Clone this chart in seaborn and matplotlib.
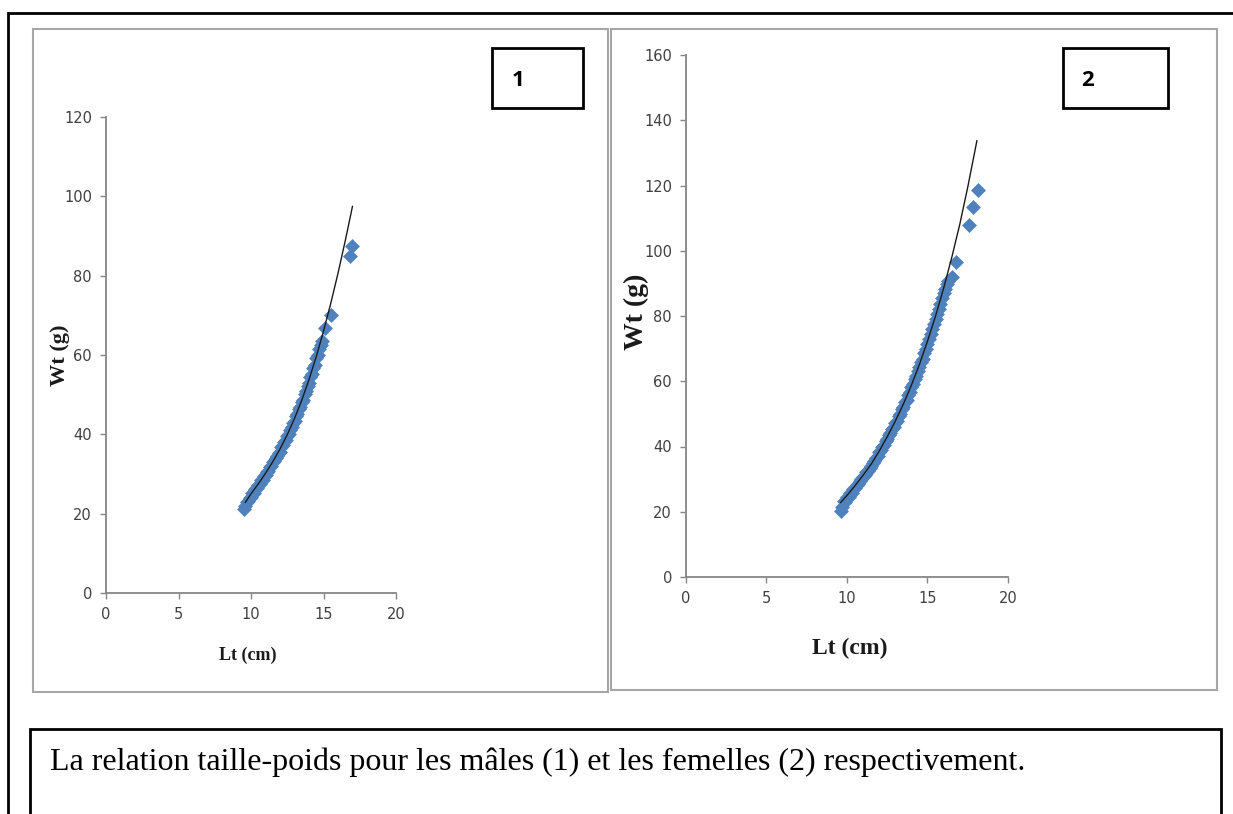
import matplotlib
matplotlib.use("Agg")
import matplotlib.pyplot as plt
from matplotlib.patches import Rectangle
import seaborn as sns
import pandas as pd

# males (1): total length (cm) vs total weight (g)
lt_males = [9.5, 9.6, 9.7, 9.8, 9.9, 10.0, 10.1, 10.2, 10.3, 10.4,
            10.5, 10.6, 10.7, 10.8, 10.9, 11.0, 11.1, 11.2, 11.3, 11.4,
            11.5, 11.6, 11.7, 11.8, 11.9, 12.0, 12.1, 12.2, 12.3, 12.4,
            12.5, 12.6, 12.7, 12.8, 12.9, 13.0, 13.1, 13.2, 13.3, 13.4,
            13.5, 13.6, 13.7, 13.8, 13.9, 14.0, 14.1, 14.2, 14.3, 14.4,
            14.5, 14.6, 14.7, 14.8, 14.9, 15.1, 15.5, 16.85, 16.95]
wt_males = [21.2, 22.0, 23.0, 23.1, 24.0, 24.3, 25.2, 25.3, 26.2, 26.4,
            27.3, 27.6, 28.4, 28.6, 29.4, 29.8, 30.6, 30.8, 31.8, 32.1,
            32.9, 33.2, 34.0, 34.6, 35.4, 35.6, 36.7, 37.2, 38.1, 38.6,
            39.6, 40.2, 41.1, 41.8, 42.8, 43.3, 44.6, 45.1, 46.3, 46.9,
            48.2, 48.7, 50.2, 50.9, 52.2, 52.9, 54.5, 55.3, 56.8, 57.6,
            59.2, 60.0, 61.6, 62.4, 63.6, 66.8, 70.0, 85.0, 87.5]
fit_lt_males = [9.6, 10.0, 10.5, 11.0, 11.5, 12.0, 12.5, 13.0, 13.5, 14.0, 14.5, 15.0,
                15.5, 16.0, 16.5, 17.0]
fit_wt_males = [22.8, 25.0, 27.5, 30.2, 33.1, 36.3, 39.9, 44.0, 48.6, 53.8, 59.6, 66.0,
                73.0, 80.6, 88.8, 97.5]

# females (2)
lt_females = [9.6, 9.7, 9.8, 9.9, 10.0, 10.1, 10.2, 10.3, 10.4, 10.5,
              10.6, 10.7, 10.8, 10.9, 11.0, 11.1, 11.2, 11.3, 11.4, 11.5,
              11.6, 11.7, 11.8, 11.9, 12.0, 12.1, 12.2, 12.3, 12.4, 12.5,
              12.6, 12.7, 12.8, 12.9, 13.0, 13.1, 13.2, 13.3, 13.4, 13.5,
              13.6, 13.7, 13.8, 13.9, 14.0, 14.1, 14.2, 14.3, 14.4, 14.5,
              14.6, 14.7, 14.8, 14.9, 15.0, 15.1, 15.2, 15.3, 15.4, 15.5,
              15.6, 15.7, 15.8, 15.9, 16.0, 16.1, 16.2, 16.3,
              16.5, 16.8, 17.55, 17.85, 18.15]
wt_females = [20.3, 21.6, 23.4, 22.9, 24.6, 24.4, 25.8, 25.6, 27.0, 27.2,
              28.3, 28.4, 29.5, 29.9, 30.8, 31.2, 32.2, 32.6, 33.5, 33.9,
              35.0, 35.5, 36.5, 37.0, 38.2, 38.8, 40.0, 40.4, 41.7, 42.2,
              43.5, 44.0, 45.4, 45.9, 47.3, 47.8, 49.4, 49.9, 51.4, 52.0,
              53.6, 54.4, 55.9, 56.6, 58.2, 59.1, 60.8, 61.6, 63.2, 64.3,
              65.9, 66.9, 68.7, 69.8, 71.5, 72.8, 74.6, 75.9, 77.5, 79.0,
              80.6, 82.1, 83.8, 85.5, 87.0, 88.3, 89.8, 90.8,
              92.0, 96.6, 107.9, 113.5, 118.6]
fit_lt_females = [9.6, 10.0, 10.5, 11.0, 11.5, 12.0, 12.5, 13.0, 13.5, 14.0, 14.5, 15.0,
                  15.5, 16.0, 16.5, 17.0, 17.5, 18.0, 18.07]
fit_wt_females = [22.8, 25.0, 28.0, 31.2, 34.6, 38.6, 43.0, 47.8, 53.0, 58.8, 65.2, 72.3,
                  80.0, 88.5, 97.8, 108.0, 119.5, 132.0, 133.8]

x_ticks = [0, 5, 10, 15, 20]
y_ticks_males = [0, 20, 40, 60, 80, 100, 120]
y_ticks_females = [0, 20, 40, 60, 80, 100, 120, 140, 160]
caption = "La relation taille-poids pour les mâles (1) et les femelles (2) respectivement."

sns.set_theme(style="white")
plt.rcParams['font.family'] = ['Liberation Sans Narrow', 'DejaVu Sans']

W, H = 1233, 814
fig = plt.figure(figsize=(W / 100, H / 100), dpi=100)


def box(x0, y0, x1, y1, color, lw):
    fig.patches.append(Rectangle((x0 / W, 1 - y1 / H), (x1 - x0) / W, (y1 - y0) / H,
                                 transform=fig.transFigure, fill=False,
                                 edgecolor=color, linewidth=lw))


# frames
box(8, 13, 1260, 860, 'black', 2)
box(33, 29, 608, 692, '#a6a6a6', 1.5)
box(611, 29, 1217, 690, '#a6a6a6', 1.5)
box(492, 48, 583, 108, 'black', 2)
box(1063, 48, 1168, 108, 'black', 2)
box(30, 729, 1221, 860, 'black', 2)

fig.text(518 / W, 1 - 80 / H, "1", fontsize=16, fontweight='bold', family=['Open Sans', 'DejaVu Sans'],
         ha='center', va='center', color='black')
fig.text(1088 / W, 1 - 80 / H, "2", fontsize=16, fontweight='bold', family=['Open Sans', 'DejaVu Sans'],
         ha='center', va='center', color='black')
fig.text(50 / W, 1 - 770 / H, caption, fontsize=23, family=['Liberation Serif', 'DejaVu Serif'],
         ha='left', va='baseline', color='black')

panels = [
    dict(rect=(106, 117, 396, 593), lt=lt_males, wt=wt_males, flt=fit_lt_males, fwt=fit_wt_males,
         yt=y_ticks_males, xlab=(0.49, -0.132, 13), ylab=(-0.159, 0.5, 16)),
    dict(rect=(686, 55, 1008, 577), lt=lt_females, wt=wt_females, flt=fit_lt_females, fwt=fit_wt_females,
         yt=y_ticks_females, xlab=(0.509, -0.136, 17), ylab=(-0.155, 0.508, 20)),
]

for p in panels:
    x0, y0, x1, y1 = p['rect']
    ax = fig.add_axes([x0 / W, 1 - y1 / H, (x1 - x0) / W, (y1 - y0) / H])
    df = pd.DataFrame({'Lt': p['lt'], 'Wt': p['wt']})
    fit = pd.DataFrame({'Lt': p['flt'], 'Wt': p['fwt']})
    sns.scatterplot(data=df, x='Lt', y='Wt', marker='D', s=58, color='#4F81BD',
                    linewidth=0, ax=ax, clip_on=False, zorder=2)
    sns.lineplot(data=fit, x='Lt', y='Wt', color='#1a1a1a', linewidth=1.0, sort=False,
                 estimator=None, ax=ax, zorder=3)
    ax.set_xlim(0, 20)
    ax.set_ylim(0, p['yt'][-1])
    ax.set_xticks(x_ticks)
    ax.set_yticks(p['yt'])
    for side in ['top', 'right']:
        ax.spines[side].set_visible(False)
    for side in ['left', 'bottom']:
        ax.spines[side].set_color('#868686')
        ax.spines[side].set_linewidth(1.3)
    ax.tick_params(axis='both', which='major', direction='out', length=4, width=1,
                   color='#868686', labelsize=10.5, labelcolor='#404040', pad=6)
    ax.tick_params(left=True, bottom=True)
    ax.set_facecolor('none')
    xl, yl, xs = p['xlab']
    ax.set_xlabel('Lt (cm)', fontsize=xs, fontweight='bold', family=['Liberation Serif', 'DejaVu Serif'],
                  va='center', color='#1a1a1a')
    ax.xaxis.set_label_coords(xl, yl)
    xl, yl, ys = p['ylab']
    ax.set_ylabel('Wt (g)', fontsize=ys, fontweight='bold', family=['Liberation Serif', 'DejaVu Serif'],
                  va='center', color='#1a1a1a')
    ax.yaxis.set_label_coords(xl, yl)

fig.savefig('out.png', dpi=100)
